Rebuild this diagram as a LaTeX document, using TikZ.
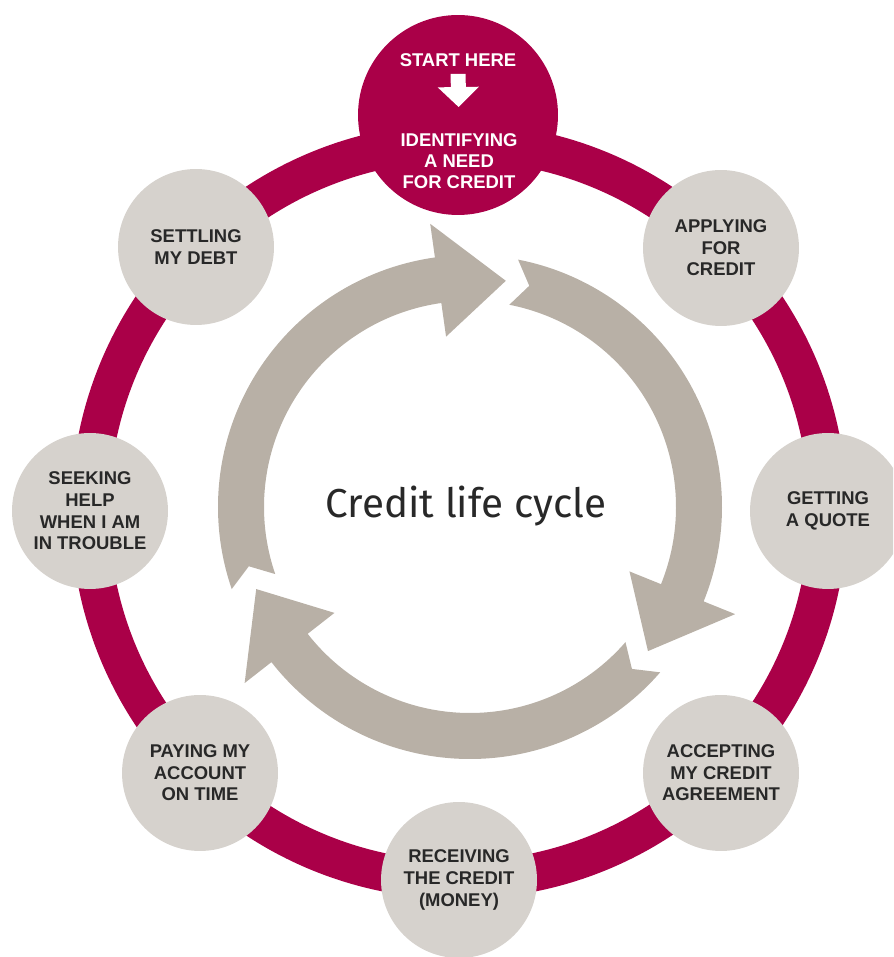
\documentclass[tikz,border=0pt]{standalone}
\usepackage{fontspec}
\setmainfont{Liberation Sans}
\newfontfamily\handfont{Fira Sans}
\usetikzlibrary{arrows.meta}
\definecolor{ringred}{RGB}{170,0,72}
\definecolor{stagegrey}{RGB}{214,210,205}
\definecolor{arrowgrey}{RGB}{184,176,166}
\definecolor{stageink}{RGB}{40,40,40}

\begin{document}
\begin{tikzpicture}[x=0.02cm, y=0.02cm,
	ring/.style={draw=ringred, line width=0.76cm},
	stage/.style={circle, fill=stagegrey, minimum size=3.12cm, inner sep=0pt, align=center, text=stageink, font=\bfseries\fontsize{10.5}{12.3}\selectfont},
	startstage/.style={circle, fill=ringred, minimum size=4cm, inner sep=0pt},
	starttext/.style={inner sep=0pt, align=center, text=white, font=\bfseries\fontsize{10.5}{12}\selectfont},
	startarrow/.style={draw=white, line width=0.3cm, shorten <=0.14cm, shorten >=0.52cm, -{Triangle[width=0.8cm,length=0.4cm]}},
	cyclearrow/.style={fill=arrowgrey}]
		\useasboundingbox (0,0) rectangle (893,957);
		\clip (0,0) rectangle (893,957);
		
		% ring
		\coordinate (ringc) at (459,446);
		\draw[ring] (ringc) circle[radius=369];
		
		% stages
		\node[startstage] (startc) at (458,842) {};
		\node[stage] (apply) at (721,709) {APPLYING\\FOR\\CREDIT};
		\node[stage] (quote) at (828,446) {GETTING\\A QUOTE};
		\node[stage] (accept) at (721,184) {ACCEPTING\\MY CREDIT\\AGREEMENT};
		\node[stage] (receive) at (459,77) {RECEIVING\\THE CREDIT\\(MONEY)};
		\node[stage] (pay) at (200,184) {PAYING MY\\ACCOUNT\\ON TIME};
		\node[stage] (help) at (90,446) {SEEKING\\HELP\\WHEN I AM\\IN TROUBLE};
		\node[stage] (settle) at (196,710) {SETTLING\\MY DEBT};
		
		% start here
		\node[starttext] (start) at (458,897) {START HERE};
		\node[starttext] (need) at (459,796) {IDENTIFYING\\A NEED\\FOR CREDIT};
		\draw[startarrow] (start.south) -- (need.north);
		
		% cycle arrows
		\begin{scope}[shift={(470,450)}]
			\fill[cyclearrow] (199:252) arc[start angle=199, end angle=98, radius=252] -- (98:286) -- (81:229) -- (98:172) -- (98:206) arc[start angle=98, end angle=199, radius=206] -- (195:229) -- cycle;
			\fill[cyclearrow] (79:252) arc[start angle=79, end angle=-22, radius=252] -- (-22:286) -- (-39:229) -- (-22:172) -- (-22:206) arc[start angle=-22, end angle=79, radius=206] -- (75:229) -- cycle;
			\fill[cyclearrow] (-41:252) arc[start angle=-41, end angle=-142, radius=252] -- (-142:286) -- (-159:229) -- (-142:172) -- (-142:206) arc[start angle=-142, end angle=-41, radius=206] -- (-45:229) -- cycle;
		\end{scope}
		
		% title
		\node[anchor=base, inner sep=0pt, text=stageink, font=\handfont\fontsize{23}{27}\selectfont] (title) at (466,439) {Credit life cycle};
		
\end{tikzpicture}
\end{document}
